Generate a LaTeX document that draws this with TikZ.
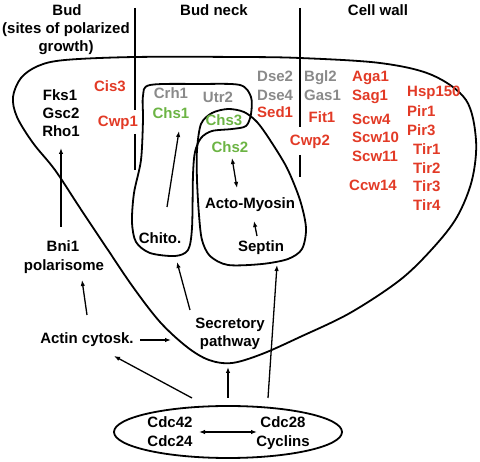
\documentclass[tikz,border=0pt]{standalone}
\usepackage{fontspec}
\setmainfont{Liberation Sans}
\usetikzlibrary{arrows.meta}
\definecolor{cred}{RGB}{226,58,38}
\definecolor{cgreen}{RGB}{108,180,68}
\definecolor{cgrey}{RGB}{138,138,138}
\begin{document}
\begin{tikzpicture}[x=1pt,y=-1pt,
  lbl/.style={font=\fontsize{15}{18}\selectfont\bfseries, inner sep=1pt, text height=11pt, text depth=3pt},
  rd/.style={lbl,text=cred}, gn/.style={lbl,text=cgreen}, gy/.style={lbl,text=cgrey},
  outline/.style={line width=1.8pt, line join=round},
  arr/.style={line width=1.3pt,-{Latex[length=6pt,width=4.5pt]}},
  darr/.style={line width=1.3pt,{Latex[length=6pt,width=4.5pt]}-{Latex[length=6pt,width=4.5pt]}},
  divider/.style={line width=1.5pt}]
\useasboundingbox (0,0) rectangle (480,462);

% headers
\node[lbl] (hbud) at (67,12) {Bud};
\node[lbl] (hbud2) at (66,30) {(sites of polarized};
\node[lbl] (hbud3) at (66,48) {growth)};
\node[lbl] (hneck) at (214,12) {Bud neck};
\node[lbl] (hwall) at (378,12) {Cell wall};

% dividers
\coordinate (d1a) at (135,8);  \coordinate (d1b) at (135,110);
\coordinate (d1c) at (135,134); \coordinate (d1d) at (135,170);
\coordinate (d2a) at (300,8);  \coordinate (d2b) at (300,127);
\coordinate (d2c) at (300,155); \coordinate (d2d) at (300,177);
\draw[divider] (d1a) -- (d1b) (d1c) -- (d1d);
\draw[divider] (d2a) -- (d2b) (d2c) -- (d2d);

% outer cell outline
\draw[outline] plot[smooth cycle, tension=0.55] coordinates {
 (13,97) (21,78) (38,66) (65,60) (135,57) (240,57) (300,58) (380,63) (432,75) (466,100)
 (476,140) (472,180) (457,217) (433,248) (400,280) (350,313) (300,337) (262,354)
 (232,363) (209,360) (187,347) (160,322) (133,287) (108,250) (80,208) (55,170)
 (33,143) (17,117)};

% inner shape 1 (chitin)
\draw[outline] plot[smooth cycle, tension=0.5] coordinates {
 (150,85) (200,84) (240,85) (251,97) (251,114) (246,126) (232,129) (212,131) (201,138)
 (195,152) (193,175) (192,228) (188,250) (175,256) (150,253) (136,242) (132,222)
 (134,193) (141,160) (143,120) (143,96)};

% inner shape 2 (acto-myosin)
\draw[outline] plot[smooth cycle, tension=0.5] coordinates {
 (197,150) (201,124) (212,113) (228,109) (244,112) (257,122) (270,140) (287,168)
 (300,200) (306,228) (302,249) (288,259) (262,264) (228,265) (210,256) (202,240)
 (199,215) (197,180)};

% Bud column
\node[rd] (cis3) at (110,88) {Cis3};
\node[rd] (cwp1) at (118,123) {Cwp1};
\node[lbl] (fks1) at (60,97) {Fks1};
\node[lbl] (gsc2) at (61,115) {Gsc2};
\node[lbl] (rho1) at (61,133) {Rho1};
\node[lbl] (bni1) at (63,248) {Bni1};
\node[lbl] (polar) at (64,267) {polarisome};
\node[lbl] (actin) at (87,340) {Actin cytosk.};
\node[lbl] (secr) at (230,325) {Secretory};
\node[lbl] (path) at (230,343) {pathway};

% Bud neck
\node[gy] (crh1) at (171,95) {Crh1};
\node[gy] (utr2) at (218,99) {Utr2};
\node[gn] (chs1) at (171,115) {Chs1};
\node[gn] (chs3) at (224,122) {Chs3};
\node[gn] (chs2) at (230,149) {Chs2};
\node[lbl] (acto) at (250,205) {Acto-Myosin};
\node[lbl] (septin) at (261,248) {Septin};
\node[lbl] (chito) at (160,240) {Chito.};

% middle / cell wall
\node[gy,anchor=west] (dse2) at (256,78) {Dse2};
\node[gy,anchor=west] (dse4) at (256,97) {Dse4};
\node[rd,anchor=west] (sed1) at (256,114) {Sed1};
\node[gy,anchor=west] (bgl2) at (303,78) {Bgl2};
\node[gy,anchor=west] (gas1) at (303,97) {Gas1};
\node[rd] (fit1) at (322,119) {Fit1};
\node[rd] (cwp2) at (310,142) {Cwp2};
\node[rd,anchor=west] (aga1) at (351,78) {Aga1};
\node[rd,anchor=west] (sag1) at (351,97) {Sag1};
\node[rd,anchor=west] (scw4) at (351,121) {Scw4};
\node[rd,anchor=west] (scw10) at (351,139) {Scw10};
\node[rd,anchor=west] (scw11) at (351,158) {Scw11};
\node[rd,anchor=west] (ccw14) at (348,187) {Ccw14};
\node[rd,anchor=west] (hsp) at (406,93) {Hsp150};
\node[rd,anchor=west] (pir1) at (406,113) {Pir1};
\node[rd,anchor=west] (pir3) at (406,132) {Pir3};
\node[rd,anchor=west] (tir1) at (412,151) {Tir1};
\node[rd,anchor=west] (tir2) at (412,170) {Tir2};
\node[rd,anchor=west] (tir3) at (412,188) {Tir3};
\node[rd,anchor=west] (tir4) at (412,207) {Tir4};

% bottom ellipse
\draw[outline] (228,432) ellipse [x radius=114, y radius=26];
\node[lbl] (cdc42) at (170,424) {Cdc42};
\node[lbl] (cdc24) at (170,443) {Cdc24};
\node[lbl] (cdc28) at (283,424) {Cdc28};
\node[lbl] (cycl) at (283,443) {Cyclins};

% arrow end points
\coordinate (a1s) at (61,227);  \coordinate (a1e) at (61,148);
\coordinate (a2s) at (87,315);  \coordinate (a2e) at (82,280);
\coordinate (a3s) at (140,340); \coordinate (a3e) at (171,340);
\coordinate (a4s) at (190,310); \coordinate (a4e) at (177,262);
\coordinate (a5s) at (167,207); \coordinate (a5e) at (179,131);
\coordinate (a6s) at (232,158); \coordinate (a6e) at (237,188);
\coordinate (a7s) at (257,236); \coordinate (a7e) at (254,221);
\coordinate (a8s) at (192,398); \coordinate (a8e) at (114,356);
\coordinate (a9s) at (228,398); \coordinate (a9e) at (228,367);
\coordinate (a10s) at (268,398); \coordinate (a10e) at (277,265);
\coordinate (a11s) at (199,432); \coordinate (a11e) at (257,432);

\draw[arr] (a1s) -- (a1e);
\draw[arr] (a2s) -- (a2e);
\draw[arr] (a3s) -- (a3e);
\draw[arr] (a4s) -- (a4e);
\draw[arr] (a5s) -- (a5e);
\draw[darr] (a6s) -- (a6e);
\draw[arr] (a7s) -- (a7e);
\draw[arr] (a8s) -- (a8e);
\draw[arr] (a9s) -- (a9e);
\draw[arr] (a10s) -- (a10e);
\draw[darr] (a11s) -- (a11e);
\end{tikzpicture}
\end{document}
